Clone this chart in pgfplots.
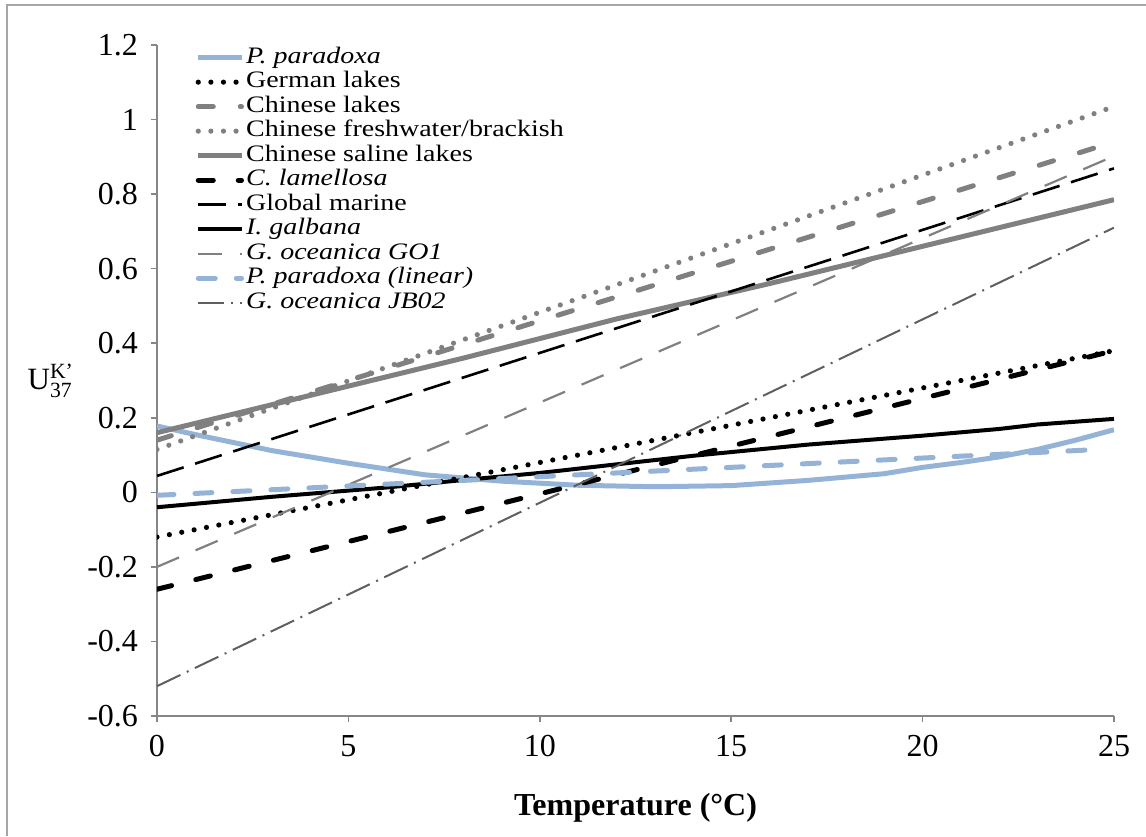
\documentclass[border=0pt]{standalone}
\usepackage{amsmath}
\usepackage{fontspec}
\setmainfont{Liberation Serif}
\newfontfamily\legfont[FakeStretch=1.185]{Liberation Serif}
\usepackage{pgfplots}
\pgfplotsset{compat=1.18}
\definecolor{lblue}{HTML}{95B3D7}
\definecolor{mgray}{HTML}{808080}
\definecolor{dgray}{HTML}{5F5F5F}
\definecolor{axgray}{HTML}{868686}
\begin{document}
\begin{tikzpicture}
\useasboundingbox (-78.5pt,-60pt) rectangle (494.5pt,358pt);
\draw[gray!70, line width=0.75pt] (-75pt,-60pt) -- (-75pt,355.5pt) -- (494.5pt,355.5pt);
\begin{axis}[
  at={(0pt,0pt)}, anchor=south west,
  scale only axis, width=478.5pt, height=335.5pt,
  xmin=0, xmax=25, ymin=-0.6, ymax=1.2,
  axis lines=left,
  axis line style={-, axgray, line width=0.75pt},
  tick align=outside, major tick length=3pt,
  tick style={axgray, line width=0.75pt},
  xtick={0,5,10,15,20,25},
  xticklabels={0,5,10,15,20,25},
  ytick={-0.6,-0.4,-0.2,0,0.2,0.4,0.6,0.8,1,1.2},
  yticklabels={-0.6,-0.4,-0.2,0,0.2,0.4,0.6,0.8,1,1.2},
  ticklabel style={font=\fontsize{16}{18}\selectfont},
  yticklabel style={xshift=-3pt},
  xticklabel style={yshift=-3pt},
  no markers,
  xlabel={\textbf{Temperature (°C)}},
  xlabel style={at={(axis description cs:0.5,-0.137)}, anchor=center, font=\fontsize{16}{18}\selectfont},
  ylabel={$\text{U}^{\text{K'}}_{\text{37}}$},
  ylabel style={rotate=-90, at={(axis description cs:-0.111,0.5)}, anchor=center, font=\fontsize{15.5}{17}\selectfont},
  legend cell align=left,
  legend style={at={(axis description cs:0.04,1.0)}, anchor=north west, draw=none, fill=none,
    inner sep=0pt, column sep=0pt, row sep=0pt,
    font=\legfont\fontsize{11.8}{12}\selectfont,
    nodes={inner ysep=0pt, inner xsep=1pt, text height=8.8pt, text depth=3.45pt}},
  legend image code/.code={\draw[#1] (0cm,0cm) -- (0.76cm,0cm);},
]
% P. paradoxa
\addplot[lblue, line width=2.5pt] coordinates {
(0,0.178) (1,0.155) (3,0.112) (5,0.078) (7,0.047) (9,0.030) (11,0.019) (13,0.015) (15,0.018) (17,0.032) (19,0.050) (20,0.067) (21,0.080) (22,0.095) (23,0.115) (24,0.140) (25,0.168)};
\addlegendentry{\textit{P. paradoxa}}
% German lakes
\addplot[black, line width=2.6pt, line cap=round, dash pattern=on 0pt off 6.3pt] coordinates {(0,-0.12) (25,0.38)};
\addlegendentry{German lakes}
% Chinese lakes
\addplot[mgray, line width=2.5pt, line cap=round, dash pattern=on 7.5pt off 13.5pt] coordinates {(0,0.14) (25,0.94)};
\addlegendentry{Chinese lakes}
% Chinese freshwater/brackish
\addplot[mgray, line width=2.6pt, line cap=round, dash pattern=on 0pt off 6.3pt] coordinates {(0,0.115) (25,1.035)};
\addlegendentry{Chinese freshwater/brackish}
% Chinese saline lakes
\addplot[mgray, line width=2.5pt] coordinates {(0,0.16) (8,0.36) (12,0.465) (16,0.56) (20,0.66) (25,0.785)};
\addlegendentry{Chinese saline lakes}
% C. lamellosa
\addplot[black, line width=2.5pt, line cap=round, dash pattern=on 7.5pt off 12.5pt] coordinates {(0,-0.26) (25,0.38)};
\addlegendentry{\textit{C. lamellosa}}
% Global marine
\addplot[black, line width=1.3pt, dash pattern=on 14pt off 6pt] coordinates {(0,0.044) (25,0.869)};
\addlegendentry{Global marine}
% I. galbana
\addplot[black, line width=2pt] coordinates {
(0,-0.04) (3,-0.012) (6,0.013) (8,0.033) (10,0.052) (12,0.075) (14,0.098) (17,0.128) (20,0.152) (22,0.170) (23,0.182) (25,0.197)};
\addlegendentry{\textit{I. galbana}}
% G. oceanica GO1
\addplot[mgray, line width=1.1pt, dash pattern=on 12pt off 9pt] coordinates {(0,-0.2) (25,0.902)};
\addlegendentry{\textit{G. oceanica GO1}}
% P. paradoxa linear
\addplot[lblue, line width=2.5pt, line cap=round, dash pattern=on 8.5pt off 10.5pt] coordinates {(0,-0.008) (24.6,0.115)};
\addlegendentry{\textit{P. paradoxa (linear)}}
% G. oceanica JB02
\addplot[dgray, line width=1pt, dash pattern=on 13pt off 3.5pt on 1pt off 3.5pt] coordinates {(0,-0.52) (25,0.71)};
\addlegendentry{\textit{G. oceanica JB02}}
\end{axis}
\end{tikzpicture}
\end{document}
